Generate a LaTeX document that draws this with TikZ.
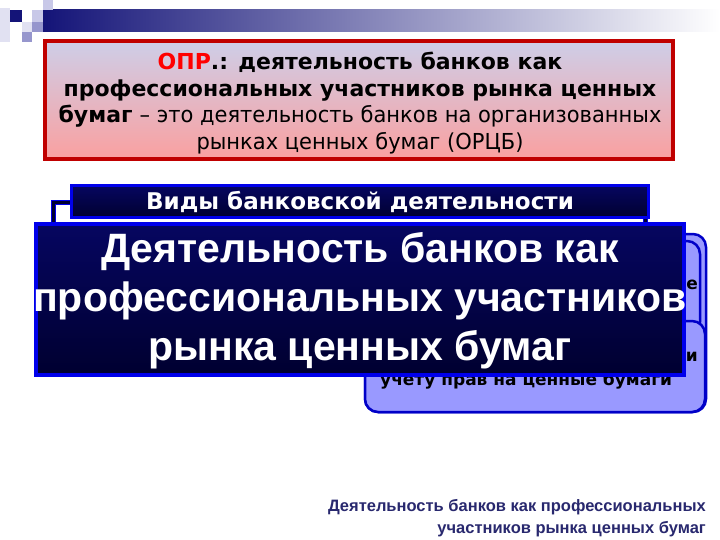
\documentclass[tikz,border=0pt]{standalone}
\usepackage{fontspec}
\setmainfont{DejaVu Sans}
\newfontfamily\tah{DejaVu Sans}
\newfontfamily\tahn[FakeStretch=0.955]{DejaVu Sans}
\newfontfamily\ari{Liberation Sans}
\definecolor{redb}{RGB}{192,0,0}
\definecolor{lavt}{RGB}{206,206,232}
\definecolor{pinkb}{RGB}{250,160,160}
\definecolor{navyt}{RGB}{6,6,96}
\definecolor{navyb}{RGB}{0,0,48}
\definecolor{blueb}{RGB}{0,0,235}
\definecolor{boxf}{RGB}{153,153,255}
\definecolor{boxd}{RGB}{0,0,200}
\definecolor{foot}{RGB}{40,40,110}
\definecolor{sq1}{RGB}{20,20,120}
\definecolor{sq2}{RGB}{200,200,232}
\definecolor{sq3}{RGB}{150,150,205}
\definecolor{sq4}{RGB}{225,225,242}
\tikzset{
  navybox/.style={top color=navyt, bottom color=navyb, draw=blueb},
  lavbox/.style={fill=boxf, draw=boxd, line width=2.5pt, rounded corners=13pt},
  boxtxt/.style={font=\tah\bfseries\fontsize{17}{20}\selectfont, text=black, inner sep=0pt},
}
\begin{document}
\begin{tikzpicture}[x=1pt,y=-1pt]
\useasboundingbox (0,0) rectangle (720,540);
% top-left decoration
\fill[sq4] (0,8) rectangle (10,42);
\shade[left color=sq1, right color=white] (43,10) rectangle (720,32);
\fill[sq2] (43,0) rectangle (53,10);
\fill[sq1] (10,10) rectangle (22,22);
\fill[sq2] (32,10) rectangle (43,22);
\fill[sq4] (22,22) rectangle (32,32);
\fill[sq3] (32,22) rectangle (43,32);
\fill[sq3] (22,32) rectangle (32,42);
% definition box
\node[draw=redb, line width=4pt, top color=lavt, bottom color=pinkb,
      minimum width=628pt, minimum height=118pt, inner sep=0pt] (def) at (359,100) {};
\node[align=center, inner sep=0pt, font=\tah\fontsize{22}{26.5}\selectfont] (deftxt) at (360,103)
  {\textbf{\textcolor{red}{ОПР}.: деятельность банков как}\\
   \textbf{профессиональных участников рынка ценных}\\
   \textbf{бумаг} {\tahn – это деятельность банков на организованных}\\
   {\tahn рынках ценных бумаг (ОРЦБ)}};
% lavender boxes behind
\draw[lavbox] (365,234) rectangle (706,412);
\draw[lavbox] (365,241) rectangle (700,335);
\draw[lavbox] (365,321) rectangle (705,412);
\node[boxtxt, anchor=east] (fe) at (698,285) {е};
\node[boxtxt, anchor=east] (fi) at (698,357) {и};
\node[boxtxt, anchor=west] (fu) at (380,381) {учету прав на ценные бумаги};
% back outline box
\draw[draw=blueb, line width=1pt, double=navyb, double distance=3pt, fill=white]
  (53.5,202.5) rectangle (645,262);
% kinds box
\node[navybox, line width=3pt, minimum width=577pt, minimum height=32pt, inner sep=0pt] (kinds) at (360,201.5) {};
\node[text=white, font=\tah\bfseries\fontsize{23}{26}\selectfont, inner sep=0pt] (kindstxt) at (kinds.center) {Виды банковской деятельности};
% big title box
\node[navybox, line width=4pt, minimum width=648pt, minimum height=151pt, inner sep=0pt] (big) at (360,299.5) {};
\node[text=white, align=center, inner sep=0pt, font=\ari\bfseries\fontsize{41}{49}\selectfont] (bigtxt) at (360,301)
  {Деятельность банков как\\профессиональных участников\\рынка ценных бумаг};
% footer
\node[anchor=east, align=right, inner sep=0pt, text=foot, font=\ari\bfseries\fontsize{16.5}{21.5}\selectfont] (footer) at (706,518)
  {Деятельность банков как профессиональных\\участников рынка ценных бумаг};
\end{tikzpicture}
\end{document}
